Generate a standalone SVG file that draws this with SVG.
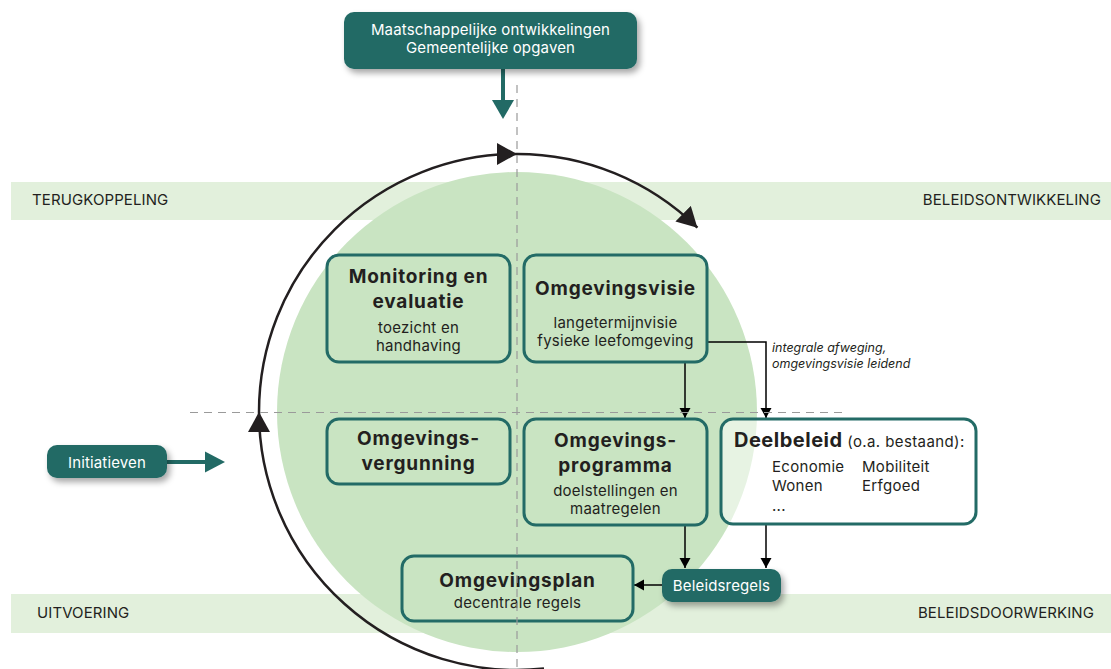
<svg xmlns="http://www.w3.org/2000/svg" width="1111" height="669" viewBox="0 0 1111 669">
<style>
text{font-family:Inter,"Noto Sans","Liberation Sans",sans-serif;fill:#231f20}
.band{fill:#e2f0dc}
.bandlbl{font-size:15px;letter-spacing:0.1px}
.box{fill:none;stroke:#236b66;stroke-width:3}
.tbox{fill:#226a65}
.wt{fill:#ffffff;font-size:15px;letter-spacing:0.15px}
.ttl{font-size:19px;font-weight:700;text-anchor:middle;letter-spacing:0.8px}
.sub{font-size:15px;text-anchor:middle;letter-spacing:0.25px}
.dash{stroke:#9a9a9a;stroke-width:1.2;stroke-dasharray:8 6;fill:none}
.cyc{fill:none;stroke:#231f20;stroke-width:2.5}
.con{fill:none;stroke:#000;stroke-width:1.5}
.teal{fill:none;stroke:#226a65;stroke-width:4}
.lst{font-size:15px;letter-spacing:0.3px}
</style>
<defs>
<filter id="sh" x="-20%" y="-30%" width="150%" height="180%">
<feDropShadow dx="3" dy="4" stdDeviation="3" flood-color="#000" flood-opacity="0.35"/>
</filter>
<marker id="big" markerUnits="userSpaceOnUse" markerWidth="24" markerHeight="24" refX="20" refY="11" orient="auto">
<path d="M0,0 L20,11 L0,22 z" fill="#231f20"/>
</marker>
<marker id="sm" markerUnits="userSpaceOnUse" markerWidth="12" markerHeight="12" refX="10" refY="5.5" orient="auto">
<path d="M0,0 L10,5.5 L0,11 z" fill="#000"/>
</marker>
</defs>

<g id="bands">
<rect class="band" x="11" y="182" width="1100" height="38"/>
<rect class="band" x="11" y="594" width="1100" height="39"/>
<text class="bandlbl" x="32" y="205">TERUGKOPPELING</text>
<text class="bandlbl" x="1101" y="205" text-anchor="end">BELEIDSONTWIKKELING</text>
<text class="bandlbl" x="37" y="618">UITVOERING</text>
<text class="bandlbl" x="1094" y="618" text-anchor="end">BELEIDSDOORWERKING</text>
</g>

<circle id="circle" cx="517" cy="412" r="240" fill="#c9e4c2"/>

<g id="connectors">
<path class="cyc" d="M544,668.6 A258,258 0 0 1 259,412" marker-end="url(#big)"/>
<path class="cyc" d="M259,412 A258,258 0 0 1 517,154" marker-end="url(#big)"/>
<path class="cyc" d="M517,154 A258,258 0 0 1 697.4,227.7" marker-end="url(#big)"/>
<line class="teal" x1="503" y1="69" x2="503" y2="102"/>
<path d="M492,100 L514,100 L503,119 z" fill="#226a65"/>
<line class="teal" x1="167" y1="462" x2="207" y2="462"/>
<path d="M205,451.5 L225,462 L205,472.5 z" fill="#226a65"/>
<path class="con" d="M707,342 H766 V418" marker-end="url(#sm)"/>
<path class="con" d="M685,362 V418" marker-end="url(#sm)"/>
<path class="con" d="M685,525 V568" marker-end="url(#sm)"/>
<path class="con" d="M766,524 V568" marker-end="url(#sm)"/>
<path class="con" d="M662,585 H634" marker-end="url(#sm)"/>
</g>

<g id="top">
<rect class="tbox" x="344" y="12" width="293" height="57" rx="10" filter="url(#sh)"/>
<text class="wt" x="490.5" y="35" text-anchor="middle">Maatschappelijke ontwikkelingen</text>
<text class="wt" x="490.5" y="53" text-anchor="middle">Gemeentelijke opgaven</text>
</g>

<g id="initiatieven">
<rect class="tbox" x="47" y="445" width="120" height="33" rx="10" filter="url(#sh)"/>
<text class="wt" x="107" y="468" text-anchor="middle">Initiatieven</text>
</g>

<g id="monitoring">
<rect class="box" x="327" y="255" width="183" height="107" rx="12"/>
<text class="ttl" x="418.5" y="283">Monitoring en</text>
<text class="ttl" x="418.5" y="308">evaluatie</text>
<text class="sub" x="418.5" y="333">toezicht en</text>
<text class="sub" x="418.5" y="351">handhaving</text>
</g>

<g id="omgevingsvisie">
<rect class="box" x="524" y="255" width="183" height="107" rx="12"/>
<text class="ttl" x="615.5" y="295">Omgevingsvisie</text>
<text class="sub" x="615.5" y="328">langetermijnvisie</text>
<text class="sub" x="615.5" y="346">fysieke leefomgeving</text>
</g>

<g id="vergunning">
<rect class="box" x="327" y="419" width="183" height="65" rx="12"/>
<text class="ttl" x="418.5" y="445">Omgevings-</text>
<text class="ttl" x="418.5" y="470">vergunning</text>
</g>

<g id="programma">
<rect class="box" x="524" y="419" width="183" height="106" rx="12"/>
<text class="ttl" x="615.5" y="447">Omgevings-</text>
<text class="ttl" x="615.5" y="472">programma</text>
<text class="sub" x="615.5" y="496">doelstellingen en</text>
<text class="sub" x="615.5" y="514">maatregelen</text>
</g>

<g id="deelbeleid">
<rect class="box" x="721" y="419" width="255" height="105" rx="12" style="fill:#ffffff;fill-opacity:0.55"/>
<text x="734" y="447"><tspan style="font-size:20px;font-weight:700;letter-spacing:0.5px">Deelbeleid</tspan><tspan style="font-size:15px;letter-spacing:0.4px"> (o.a. bestaand):</tspan></text>
<text class="lst" x="772" y="472">Economie</text>
<text class="lst" x="862" y="472">Mobiliteit</text>
<text class="lst" x="772" y="491">Wonen</text>
<text class="lst" x="862" y="491">Erfgoed</text>
<text class="lst" x="772" y="511">...</text>
</g>

<g id="label">
<text x="772" y="352" style="font-size:12.5px;font-style:italic">integrale afweging,</text>
<text x="772" y="368" style="font-size:12.5px;font-style:italic">omgevingsvisie leidend</text>
</g>

<g id="omgevingsplan">
<rect class="box" x="402" y="556" width="231" height="65" rx="12"/>
<text class="ttl" x="517.5" y="587">Omgevingsplan</text>
<text class="sub" x="517.5" y="608">decentrale regels</text>
</g>

<g id="beleidsregels">
<rect class="tbox" x="662" y="569" width="119" height="33" rx="10" filter="url(#sh)"/>
<text class="wt" x="721.5" y="591" text-anchor="middle">Beleidsregels</text>
</g>

<g id="axes">
<line class="dash" x1="517" y1="85" x2="517" y2="669"/>
<line class="dash" x1="190" y1="412.5" x2="845" y2="412.5"/>
</g>
</svg>
